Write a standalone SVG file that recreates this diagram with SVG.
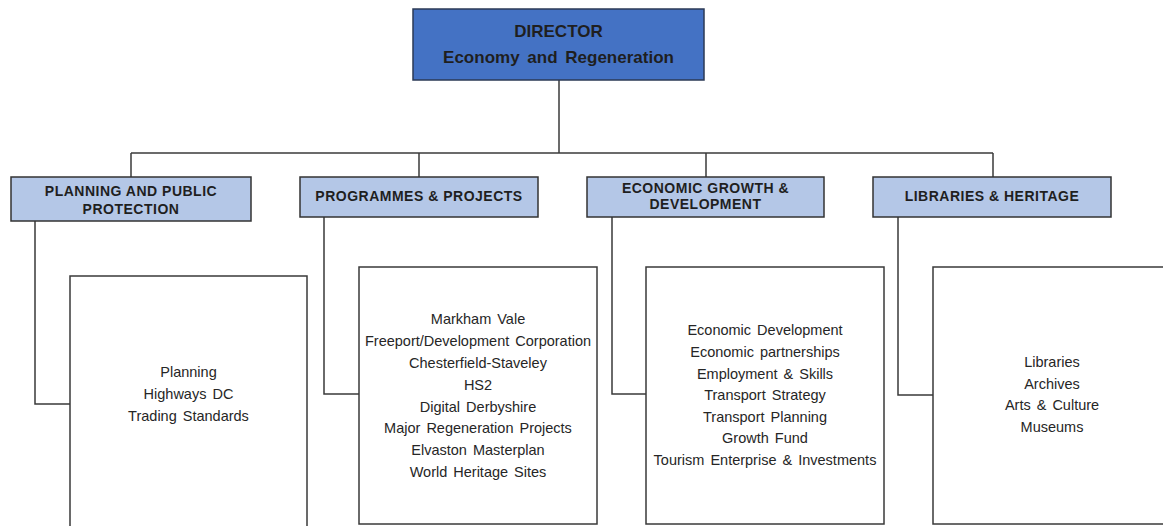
<svg xmlns="http://www.w3.org/2000/svg" width="1163" height="526" viewBox="0 0 1163 526">
  <style>
    .director { fill: #4472c4; stroke: #2b3a55; stroke-width: 1.5; }
    .head { fill: #b4c7e7; stroke: #333333; stroke-width: 1.5; }
    .panel { fill: #ffffff; stroke: #3a3a3a; stroke-width: 1.5; }
    .link { fill: none; stroke: #3a3a3a; stroke-width: 1.5; }
    text { font-family: "Liberation Sans", Arial, sans-serif; fill: #1f1f1f; text-anchor: middle; }
    .dt { font-size: 17px; font-weight: bold; word-spacing: 3px; }
    .ht { font-size: 14px; font-weight: bold; letter-spacing: 0.5px; }
    .it { font-size: 14.5px; word-spacing: 2px; fill: #262626; }
  </style>
  <rect width="1163" height="526" fill="#ffffff"/>

  <!-- connectors -->
  <g id="connectors" class="link">
    <path d="M559 80 V153"/>
    <path d="M131 153 H993"/>
    <path d="M131 153 V177"/>
    <path d="M419 153 V177"/>
    <path d="M706 153 V177"/>
    <path d="M993 153 V177"/>
    <path d="M35 221 V404 H70"/>
    <path d="M324 217 V394 H359"/>
    <path d="M612 217 V394 H646"/>
    <path d="M898 217 V395 H933"/>
  </g>

  <!-- top node -->
  <g id="director">
    <rect class="director" x="413" y="9" width="291" height="71"/>
    <text class="dt" x="558.5" y="37">DIRECTOR</text>
    <text class="dt" x="558.5" y="63">Economy and Regeneration</text>
  </g>

  <!-- division headings -->
  <g id="planning-head">
    <rect class="head" x="11" y="177" width="240" height="44"/>
    <text class="ht" x="131" y="196">PLANNING AND PUBLIC</text>
    <text class="ht" x="131" y="214">PROTECTION</text>
  </g>
  <g id="programmes-head">
    <rect class="head" x="300" y="177" width="238" height="40"/>
    <text class="ht" x="419" y="201">PROGRAMMES &amp; PROJECTS</text>
  </g>
  <g id="economic-head">
    <rect class="head" x="587" y="177" width="237" height="40"/>
    <text class="ht" x="705.5" y="193">ECONOMIC GROWTH &amp;</text>
    <text class="ht" x="705.5" y="209">DEVELOPMENT</text>
  </g>
  <g id="libraries-head">
    <rect class="head" x="873" y="177" width="238" height="40"/>
    <text class="ht" x="992" y="201">LIBRARIES &amp; HERITAGE</text>
  </g>

  <!-- service panels -->
  <g id="planning-services">
    <rect class="panel" x="70" y="276" width="237" height="270"/>
    <text class="it" x="188.5" y="377">Planning</text>
    <text class="it" x="188.5" y="399">Highways DC</text>
    <text class="it" x="188.5" y="421">Trading Standards</text>
  </g>
  <g id="programmes-services">
    <rect class="panel" x="359" y="267" width="238" height="257"/>
    <text class="it" x="478" y="324">Markham Vale</text>
    <text class="it" x="478" y="346">Freeport/Development Corporation</text>
    <text class="it" x="478" y="368">Chesterfield-Staveley</text>
    <text class="it" x="478" y="390">HS2</text>
    <text class="it" x="478" y="412">Digital Derbyshire</text>
    <text class="it" x="478" y="433">Major Regeneration Projects</text>
    <text class="it" x="478" y="455">Elvaston Masterplan</text>
    <text class="it" x="478" y="477">World Heritage Sites</text>
  </g>
  <g id="economic-services">
    <rect class="panel" x="646" y="267" width="238" height="257"/>
    <text class="it" x="765" y="335">Economic Development</text>
    <text class="it" x="765" y="357">Economic partnerships</text>
    <text class="it" x="765" y="379">Employment &amp; Skills</text>
    <text class="it" x="765" y="400">Transport Strategy</text>
    <text class="it" x="765" y="422">Transport Planning</text>
    <text class="it" x="765" y="443">Growth Fund</text>
    <text class="it" x="765" y="465">Tourism Enterprise &amp; Investments</text>
  </g>
  <g id="libraries-services">
    <rect class="panel" x="933" y="267" width="238" height="257"/>
    <text class="it" x="1052" y="367">Libraries</text>
    <text class="it" x="1052" y="389">Archives</text>
    <text class="it" x="1052" y="410">Arts &amp; Culture</text>
    <text class="it" x="1052" y="432">Museums</text>
  </g>
</svg>
